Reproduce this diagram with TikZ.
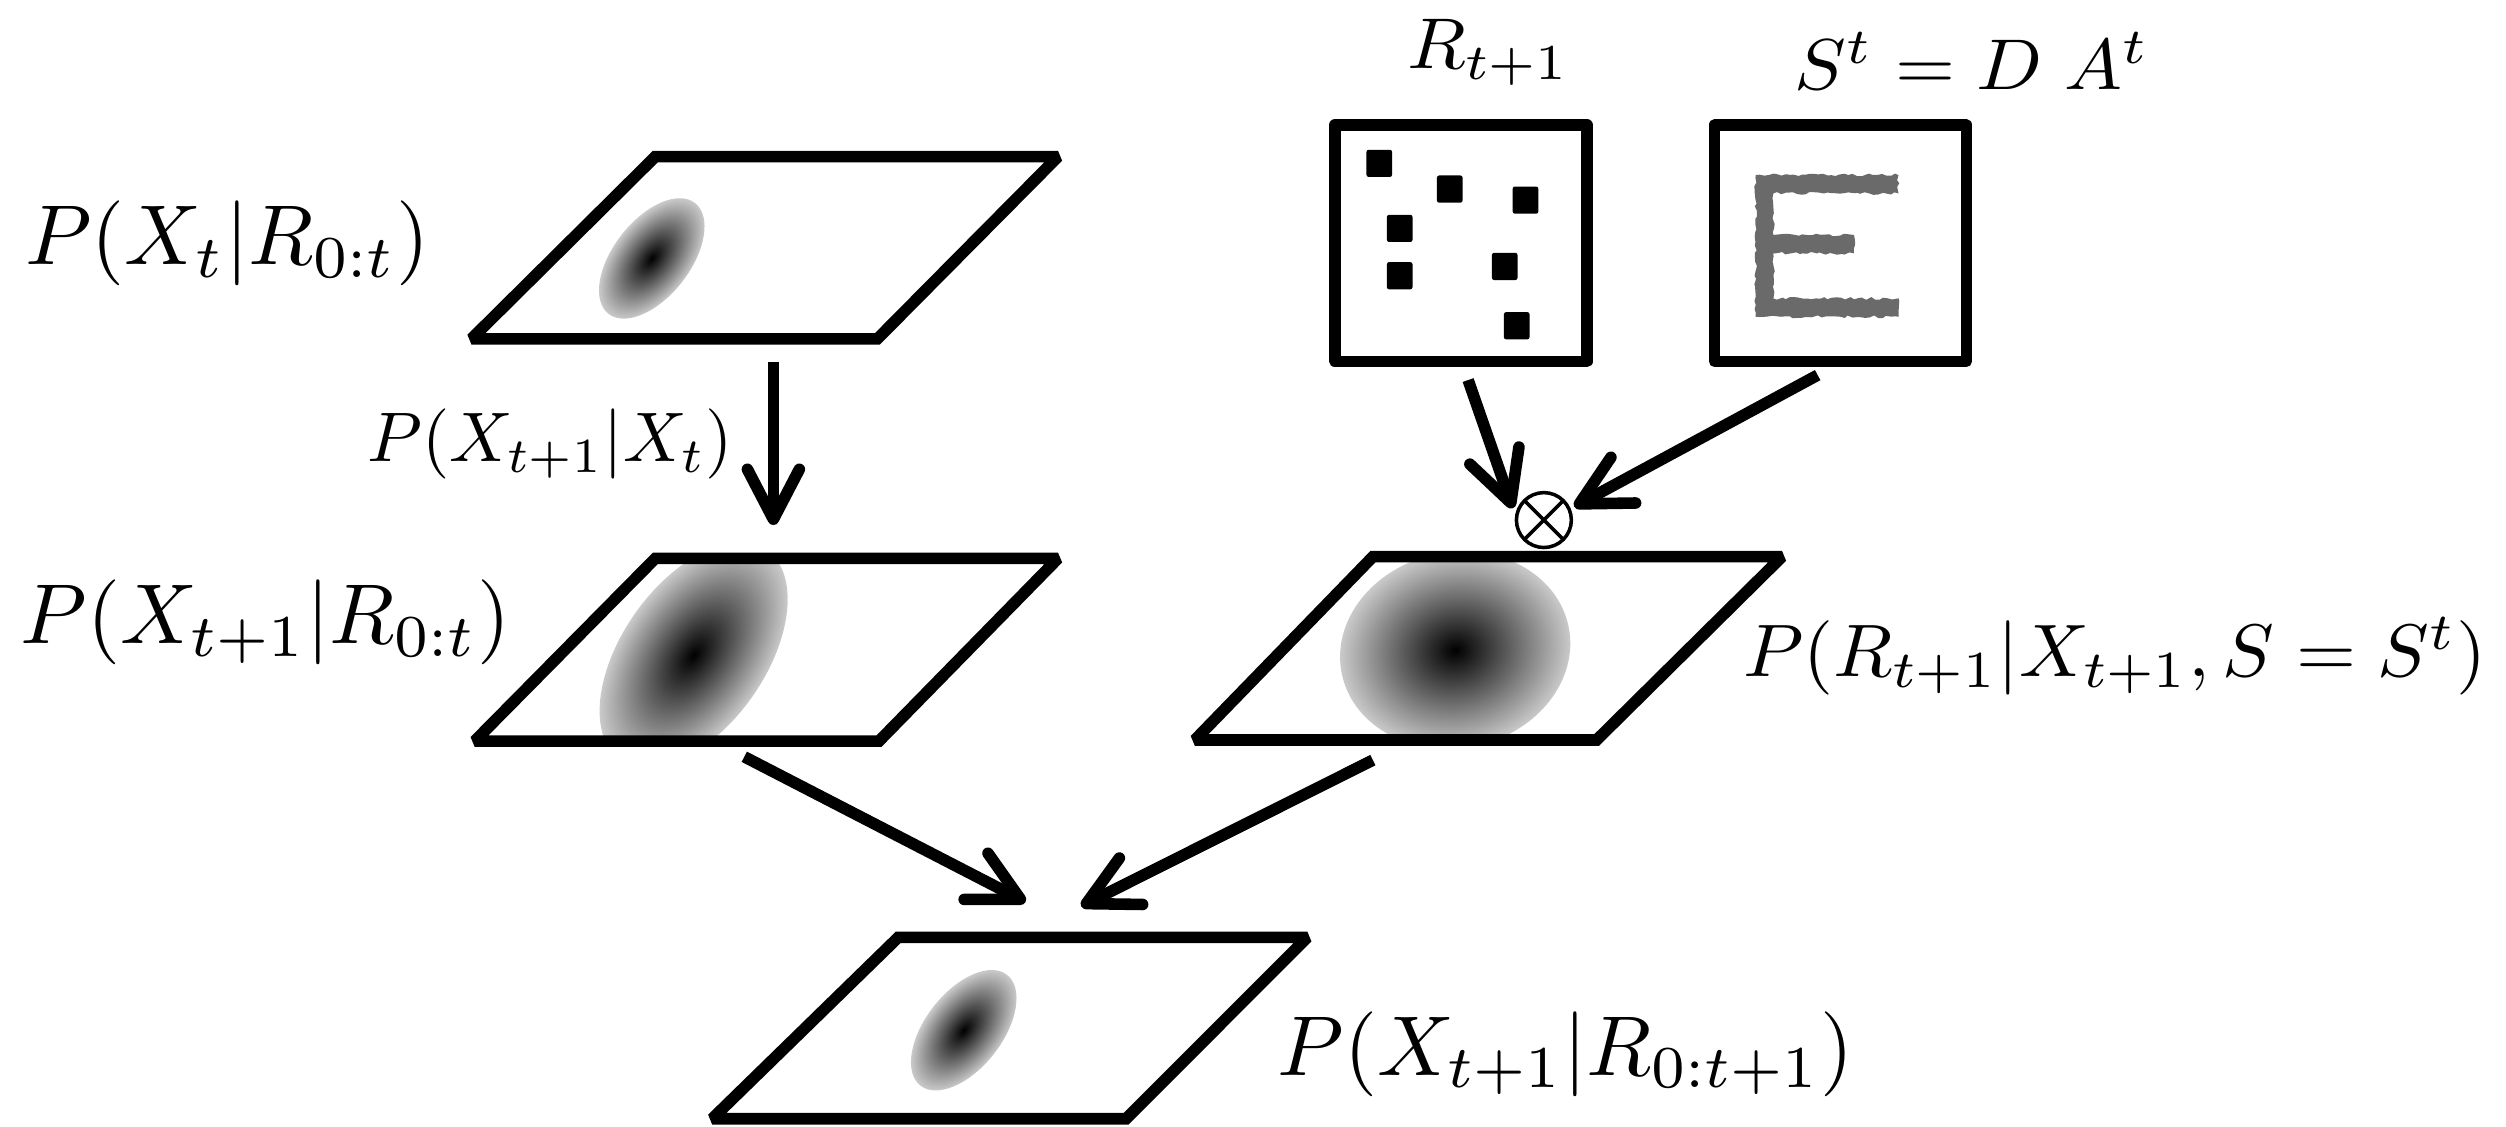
\documentclass[tikz,border=0pt]{standalone}
\usepackage{graphicx}
\usetikzlibrary{arrows.meta,decorations.pathmorphing}
\pgfdeclareradialshading{gauss}{\pgfpoint{0bp}{0bp}}{color(0bp)=(black); color(12bp)=(black!62); color(25bp)=(black!21); color(50bp)=(black!21)}
\definecolor{egray}{HTML}{6A6A6A}
\begin{document}
\begin{tikzpicture}[x=0.016cm,y=-0.016cm,
  frame/.style={line width=3.3pt, line join=miter, miter limit=1.5},
  box/.style={line width=3.3pt, line join=round},
  arr/.style={line width=3.3pt, -{Straight Barb[length=0.5cm,width=0.52cm,round]}},
  lab/.style={anchor=base west, inner sep=0pt},
  dot/.style={fill=black, rounded corners=0.6pt}
]
\useasboundingbox (0,0) rectangle (1568,705);
\pgfmathsetseed{7}

% ---------- gaussians (clipped to planes) ----------
\begin{scope}
  \clip (410,98) -- (662,98) -- (549,212) -- (295,212) -- cycle;
  \begin{scope}[transform canvas={shift={(407.8,161.7)},rotate=52}]
    \shade[shading=gauss] (0,0) ellipse [x radius=0.704cm, y radius=0.384cm];
  \end{scope}
\end{scope}
\begin{scope}
  \clip (410,349.4) -- (662,349.4) -- (550,463.7) -- (297,463.7) -- cycle;
  \begin{scope}[transform canvas={shift={(434,409.9)},rotate=55}]
    \shade[shading=gauss] (0,0) ellipse [x radius=1.28cm, y radius=0.72cm];
  \end{scope}
\end{scope}
\begin{scope}
  \clip (859,348.3) -- (1115,348.3) -- (999,463) -- (747.6,463) -- cycle;
  \begin{scope}[transform canvas={shift={(910.5,406.8)},rotate=12}]
    \shade[shading=gauss] (0,0) ellipse [x radius=1.16cm, y radius=0.98cm];
  \end{scope}
\end{scope}
\begin{scope}
  \clip (562,586.5) -- (818,586.5) -- (704.6,700) -- (445.6,700) -- cycle;
  \begin{scope}[transform canvas={shift={(603,644.6)},rotate=52}]
    \shade[shading=gauss] (0,0) ellipse [x radius=0.704cm, y radius=0.384cm];
  \end{scope}
\end{scope}

% ---------- planes ----------
\draw[frame] (410,98) -- (662,98) -- (549,212) -- (295,212) -- cycle;
\draw[frame] (410,349.4) -- (662,349.4) -- (550,463.7) -- (297,463.7) -- cycle;
\draw[frame] (859,348.3) -- (1115,348.3) -- (999,463) -- (747.6,463) -- cycle;
\draw[frame] (562,586.5) -- (818,586.5) -- (704.6,700) -- (445.6,700) -- cycle;

% ---------- image boxes ----------
\draw[box] (835.3,78.2) rectangle (992.9,226.1);
\draw[box] (1072.8,78.2) rectangle (1230.3,226.1);
\foreach \cx/\cy in {863/102.2, 907.1/118.3, 954.5/125.2, 875.8/142.9, 875.8/172.5, 941.5/166.7, 949/203.8}
  \fill[dot] (\cx-8,\cy-8.5) rectangle (\cx+8,\cy+8.5);
\fill[egray, decorate, decoration={random steps, segment length=1.2pt, amplitude=0.4pt}]
  (1098.5,109.5) -- (1187.9,109.5) -- (1187.9,121) -- (1109.6,121) -- (1109.6,147)
  -- (1160,147) -- (1160,158.5) -- (1109.6,158.5) -- (1109.6,186.7) -- (1188,186.7)
  -- (1188,198.2) -- (1098.5,198.2) -- cycle;

% ---------- product node ----------
\node[circle, draw, line width=1pt, minimum size=0.55cm, inner sep=0pt,
  path picture={\draw[line width=1pt] (path picture bounding box.north west) -- (path picture bounding box.south east)
                (path picture bounding box.north east) -- (path picture bounding box.south west);}]
  (ot) at (966,325.4) {};

% ---------- connector end points ----------
\coordinate (a1s) at (483.9,226.3);  \coordinate (a1e) at (483.9,328.5);
\coordinate (a2s) at (918.6,237.8);  \coordinate (a2e) at (946.5,318);
\coordinate (a3s) at (1137.3,234.7); \coordinate (a3e) at (985,317);
\coordinate (a4s) at (465.7,473.5);  \coordinate (a4e) at (641.7,564.3);
\coordinate (a5s) at (859,475.6);    \coordinate (a5e) at (676.5,567);

\draw[arr] (a1s) -- (a1e);
\draw[arr] (a2s) -- (a2e);
\draw[arr] (a3s) -- (a3e);
\draw[arr] (a4s) -- (a4e);
\draw[arr] (a5s) -- (a5e);

% ---------- labels ----------
\node[lab] (l1) at (15.6,165.8) {\scalebox{2.42}{$P(X_t|R_{0:t})$}};
\node[lab] (l2) at (229.5,289) {\scalebox{2.0}{$P(X_{t+1}|X_t)$}};
\node[lab] (l3) at (12.5,402.6) {\scalebox{2.42}{$P(X_{t+1}|R_{0:t})$}};
\node[lab] (l4) at (1090.5,423.4) {\scalebox{2.2}[2.12]{$P(R_{t+1}|X_{t+1}, S = S^t)$}};
\node[lab] (l5) at (799,672.7) {\scalebox{2.42}{$P(X_{t+1}|R_{0:t+1})$}};
\node[lab] (l6) at (880,42.8) {\scalebox{2.18}[2.05]{$R_{t+1}$}};
\node[lab] (l7) at (1122.5,56) {\scalebox{2.2}[2.05]{$S^t = D\;A^t$}};
\end{tikzpicture}
\end{document}
